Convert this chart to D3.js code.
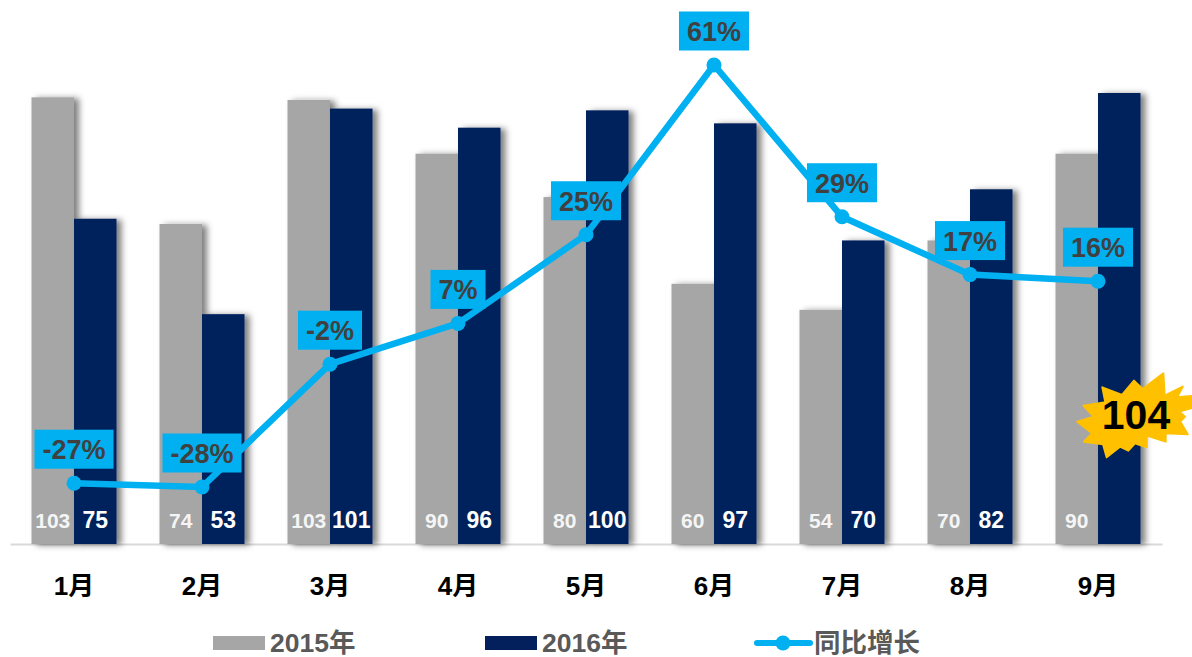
<!DOCTYPE html>
<html><head><meta charset="utf-8">
<script src="https://cdn.jsdelivr.net/npm/d3@7/dist/d3.min.js"></script>
<style>html,body{margin:0;padding:0;background:#fff;overflow:hidden}svg{display:block}
text{font-family:"Liberation Sans","Noto Sans CJK SC",sans-serif;font-weight:700}</style>
</head><body><svg id="c" width="1192" height="657"></svg>
<script>
const months = ["1月","2月","3月","4月","5月","6月","7月","8月","9月"];
const values2015 = [103,73.8,102.4,90,80,60,54,70,90];
const values2016 = [75,53,100.4,96,100,97,70,81.8,104];
const labels2015 = ["103","74","103","90","80","60","54","70","90"];
const labels2016 = ["75","53","101","96","100","97","70","82"];
const growth = [-27.2,-28,-2.1,6.5,25.2,61,29,16.8,15.4];
const growthLabels = ["-27%","-28%","-2%","7%","25%","61%","29%","17%","16%"];
const burstLabel = "104";
const burst = [[91,67],[150,90],[186,47],[212,72],[274,25],[278,92],[332,65],[315,97],[372,92],[372,125],[322,140],[339,155],[325,170],[347,208],[281,205],[281,230],[224,212],[224,247],[189,235],[169,257],[144,245],[104,277],[93,238],[36,230],[60,205],[16,170],[65,155],[34,122],[100,112]];

const svg = d3.select("#c");
const GRAY="#a6a6a6", NAVY="#03205c", BLUE="#00b0f0", DARK="#404040", LEG="#595959";
const x = d3.scaleBand().domain(months).range([10,1162]);
const sub = d3.scaleBand().domain(["a","b"]).range([x.bandwidth()/2-42.5,x.bandwidth()/2+42.5]);
const y = d3.scaleLinear().domain([0,104]).range([544,93]);
const yLine = d3.scaleLinear().domain([-28,61]).range([487,65]);
const cx = m => x(m)+x.bandwidth()/2;

const f = svg.append("defs").append("filter").attr("id","sh")
  .attr("x","-30%").attr("y","-5%").attr("width","170%").attr("height","110%");
f.append("feDropShadow").attr("dx",5).attr("dy",1).attr("stdDeviation",3)
  .attr("flood-color","#000").attr("flood-opacity",0.5);

// axis
const ax = svg.append("g").attr("transform","translate(0,544)").call(d3.axisBottom(x).tickSize(0).tickPadding(0));
ax.select(".domain").attr("stroke","#d9d9d9").attr("stroke-width",2);
ax.selectAll("text").attr("y",51).attr("dy",0).attr("fill","#000").style("font-size","26px").style("font-family",'"Liberation Sans","Noto Sans CJK SC",sans-serif').style("font-weight",700);

// bars
[[values2015,"a",GRAY],[values2016,"b",NAVY]].forEach(([vals,k,col])=>{
  svg.append("g").selectAll("rect").data(vals).join("rect")
    .attr("x",(d,i)=>x(months[i])+sub(k)).attr("width",sub.bandwidth())
    .attr("y",d=>y(d)).attr("height",d=>y(0)-y(d))
    .attr("fill",col).attr("filter","url(#sh)");
});

// value labels
svg.append("g").selectAll("text").data(labels2015).join("text")
  .attr("x",(d,i)=>x(months[i])+sub("a")+sub.bandwidth()/2).attr("y",528)
  .attr("text-anchor","middle").attr("fill","#f5f5f5").style("font-size","21px").text(d=>d);
svg.append("g").selectAll("text").data(labels2016).join("text")
  .attr("x",(d,i)=>x(months[i])+sub("b")+sub.bandwidth()/2).attr("y",528)
  .attr("text-anchor","middle").attr("fill","#fff").style("font-size","23px").text(d=>d);

// line
const line = d3.line().x((d,i)=>cx(months[i])).y(d=>yLine(d));
svg.append("path").datum(growth).attr("d",line).attr("fill","none").attr("stroke",BLUE).attr("stroke-width",6.5);
svg.append("g").selectAll("circle").data(growth).join("circle")
  .attr("cx",(d,i)=>cx(months[i])).attr("cy",d=>yLine(d)).attr("r",7.5).attr("fill",BLUE);

// growth label boxes
const lab = svg.append("g").selectAll("g").data(growth).join("g")
  .attr("transform",(d,i)=>`translate(${cx(months[i])},${yLine(d)-34})`);
const rects = lab.append("rect").attr("fill",BLUE);
const tx = lab.append("text").attr("text-anchor","middle").attr("y",10).attr("fill",DARK)
  .style("font-size","27px").text((d,i)=>growthLabels[i]);
tx.each(function(d,i){
  const w=this.getComputedTextLength()+16;
  d3.select(rects.nodes()[i]).attr("x",-w/2).attr("y",-19.5).attr("width",w).attr("height",39);
});

// burst callout
const bx=d3.scaleLinear().domain([0,360]).range([1072,1192]);
const by=d3.scaleLinear().domain([0,300]).range([365,465]);
svg.append("path").attr("d",d3.line().x(d=>bx(d[0])).y(d=>by(d[1])).curve(d3.curveLinearClosed)(burst))
  .attr("fill","#ffc000").attr("stroke","#ffc000").attr("stroke-width",2).attr("stroke-linejoin","round");
svg.append("text").attr("x",1136).attr("y",429).attr("text-anchor","middle").attr("fill","#000")
  .style("font-size","41px").text(burstLabel);

// legend
const leg=svg.append("g");
[[213,GRAY,"2015年",270],[485,NAVY,"2016年",542]].forEach(([lx,c,t,tx0])=>{
  leg.append("rect").attr("x",lx).attr("y",636).attr("width",52).attr("height",14).attr("fill",c);
  leg.append("text").attr("x",tx0).attr("y",651.5).attr("fill",LEG).style("font-size","26.5px").text(t);
});
leg.append("line").attr("x1",757).attr("x2",810).attr("y1",643).attr("y2",643).attr("stroke",BLUE).attr("stroke-width",6).attr("stroke-linecap","round");
leg.append("circle").attr("cx",783).attr("cy",643).attr("r",7.5).attr("fill",BLUE);
leg.append("text").attr("x",814).attr("y",651.5).attr("fill",LEG).style("font-size","26.5px").text("同比增长");
</script></body></html>
